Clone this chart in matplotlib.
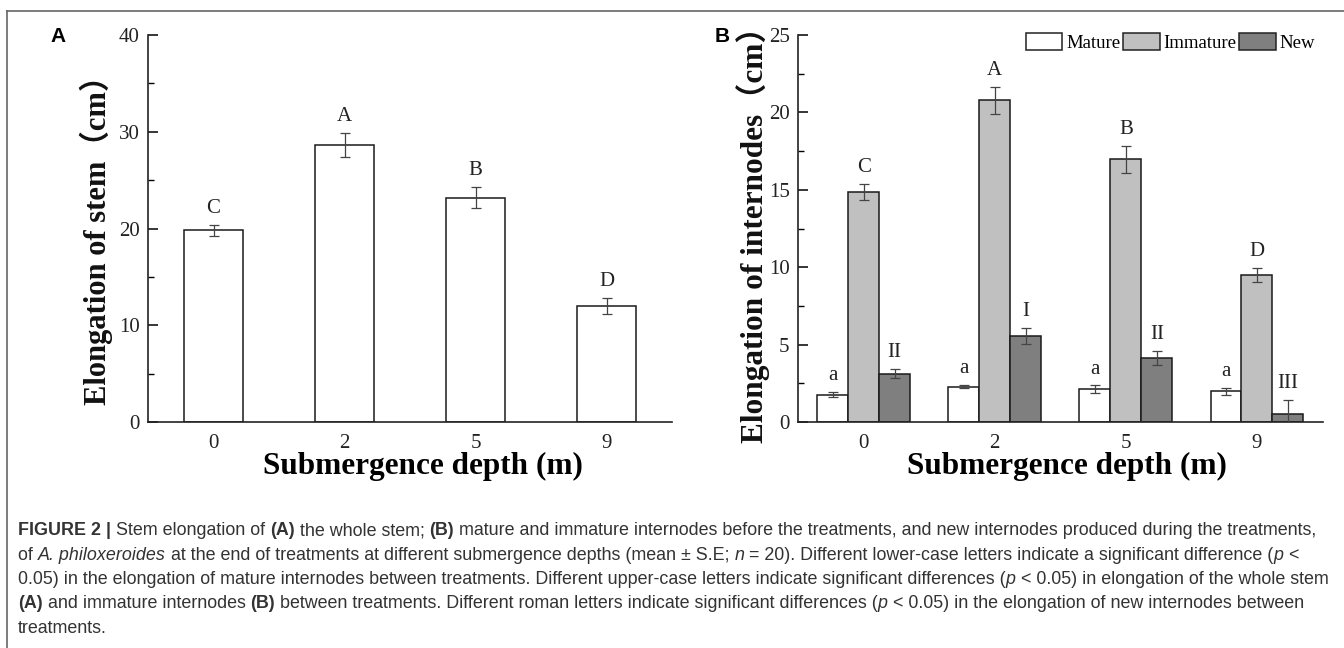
import matplotlib
matplotlib.use("Agg")
import matplotlib.pyplot as plt
import numpy as np
from matplotlib.lines import Line2D

# data
depths = ["0", "2", "5", "9"]

stem_mean = [19.8, 28.6, 23.2, 12.0]
stem_se = [0.55, 1.25, 1.1, 0.8]
stem_letters = ["C", "A", "B", "D"]

mature_mean = [1.77, 2.28, 2.11, 1.98]
mature_se = [0.18, 0.10, 0.25, 0.23]
mature_letters = ["a", "a", "a", "a"]

immature_mean = [14.85, 20.78, 16.96, 9.48]
immature_se = [0.52, 0.88, 0.86, 0.45]
immature_letters = ["C", "A", "B", "D"]

new_mean = [3.13, 5.54, 4.12, 0.50]
new_se = [0.28, 0.52, 0.47, 0.95]
new_letters = ["II", "I", "II", "III"]

SERIF = ["Liberation Serif", "Noto Sans CJK SC", "DejaVu Serif"]
SANS = "Liberation Sans"
W, H = 1344, 648


def style_axis(ax, ymax, major, minor, xlabel_x):
    ax.set_xlim(0.5, 4.5)
    ax.set_ylim(0, ymax)
    ax.set_yticks(np.arange(0, ymax + 0.1, major))
    ax.set_yticks(np.arange(minor, ymax, major), minor=True)
    ax.set_xticks(np.arange(1, 5))
    ax.set_xticklabels(depths)
    for s in ("top", "right"):
        ax.spines[s].set_visible(False)
    for s in ("left", "bottom"):
        ax.spines[s].set_linewidth(1.2)
        ax.spines[s].set_color("#222222")
    ax.tick_params(axis="y", which="major", direction="in", length=7, width=1.1, pad=6)
    ax.tick_params(axis="y", which="minor", direction="in", length=4, width=1.0)
    ax.tick_params(axis="x", length=0, pad=9)
    for lab in ax.get_xticklabels() + ax.get_yticklabels():
        lab.set_family(SERIF)
        lab.set_fontsize(15)
        lab.set_color("#222222")
    ax.set_xlabel("Submergence depth (m)", family=SERIF, fontsize=22.5,
                  fontweight="bold", va="top")
    ax.xaxis.set_label_coords(xlabel_x, -0.078)


def bars(ax, x, mean, se, letters, width, color, label=None):
    ax.bar(x, mean, width, color=color, edgecolor="#1a1a1a", linewidth=1.1,
           label=label, zorder=2)
    ax.errorbar(x, mean, yerr=se, fmt="none", ecolor="#444444", elinewidth=0.9,
                capsize=3.5, capthick=0.9, zorder=3)
    for xi, m, e, t in zip(x, mean, se, letters):
        ax.annotate(t, (xi, m + e), xytext=(0, 5), textcoords="offset points",
                    ha="center", va="bottom", family=SERIF, fontsize=15,
                    color="#222222")


fig = plt.figure(figsize=(W / 100, H / 100), dpi=100)

# panel A
axA = fig.add_axes([148 / W, 1 - 422 / H, 524 / W, 387 / H])
xA = np.arange(1, 5)
bars(axA, xA, stem_mean, stem_se, stem_letters, 0.45, "white")
style_axis(axA, 40, 10, 5, 0.525)

# panel B
axB = fig.add_axes([798 / W, 1 - 422 / H, 524.5 / W, 387 / H])
bw = 0.236
xB = np.arange(1, 5)
bars(axB, xB - bw, mature_mean, mature_se, mature_letters, bw, "white", "Mature")
bars(axB, xB, immature_mean, immature_se, immature_letters, bw, "#c0c0c0", "Immature")
bars(axB, xB + bw, new_mean, new_se, new_letters, bw, "#7f7f7f", "New")
style_axis(axB, 25, 5, 2.5, 0.513)
leg = axB.legend(loc="upper right", bbox_to_anchor=(1.0, 1.025), ncol=3, frameon=False,
                 prop={"family": SERIF, "size": 13.5}, handlelength=1.95,
                 handleheight=1.0, handletextpad=0.2, columnspacing=0.15,
                 borderaxespad=0.0)
for h in leg.legend_handles:
    h.set_edgecolor("#222222")

# y labels
fig.text(106 / W, 1 - 233 / H, "Elongation of stem（cm）", rotation=90,
         rotation_mode="anchor", ha="center", va="baseline", family=SERIF,
         fontsize=22, fontweight="bold", color="#111111")
fig.text(763 / W, 1 - 227 / H, "Elongation of internodes（cm）", rotation=90,
         rotation_mode="anchor", ha="center", va="baseline", family=SERIF,
         fontsize=22.5, fontweight="bold", color="#111111")

# panel letters
fig.text(50 / W, 1 - 37 / H, "A", family=SANS, fontweight="bold", fontsize=15,
         va="center", ha="left")
fig.text(715 / W, 1 - 37 / H, "B", family=SANS, fontweight="bold", fontsize=15,
         va="center", ha="left")

# frame lines
fig.add_artist(Line2D([7 / W, 1], [1 - 11 / H, 1 - 11 / H], color="#666666", lw=1.2))
fig.add_artist(Line2D([7 / W, 7 / W], [0, 1 - 11 / H], color="#666666", lw=1.2))

# caption, drawn piece by piece for mixed styles
caption = [
    [("FIGURE 2 | ", "bold", "normal"), ("Stem elongation of ", "normal", "normal"),
     ("(A)", "bold", "normal"), (" the whole stem; ", "normal", "normal"),
     ("(B)", "bold", "normal"),
     (" mature and immature internodes before the treatments, and new internodes produced during the treatments,", "normal", "normal")],
    [("of ", "normal", "normal"), ("A. philoxeroides", "normal", "italic"),
     (" at the end of treatments at different submergence depths (mean ± S.E; ", "normal", "normal"),
     ("n", "normal", "italic"),
     (" = 20). Different lower-case letters indicate a significant difference (", "normal", "normal"),
     ("p", "normal", "italic"), (" <", "normal", "normal")],
    [("0.05) in the elongation of mature internodes between treatments. Different upper-case letters indicate significant differences (", "normal", "normal"),
     ("p", "normal", "italic"), (" < 0.05) in elongation of the whole stem", "normal", "normal")],
    [("(A)", "bold", "normal"), (" and immature internodes ", "normal", "normal"),
     ("(B)", "bold", "normal"),
     (" between treatments. Different roman letters indicate significant differences (", "normal", "normal"),
     ("p", "normal", "italic"), (" < 0.05) in the elongation of new internodes between", "normal", "normal")],
    [("treatments.", "normal", "normal")],
]
renderer = fig.canvas.get_renderer()
base_y = 535
for i, line in enumerate(caption):
    x = 18
    y = base_y + i * 24.5
    for text, weight, style in line:
        t = fig.text(x / W, 1 - y / H, text, family=SANS, fontsize=12.9,
                     fontweight=weight, fontstyle=style, color="#333333",
                     ha="left", va="baseline")
        x += t.get_window_extent(renderer).width

fig.savefig("out.png", dpi=100)
